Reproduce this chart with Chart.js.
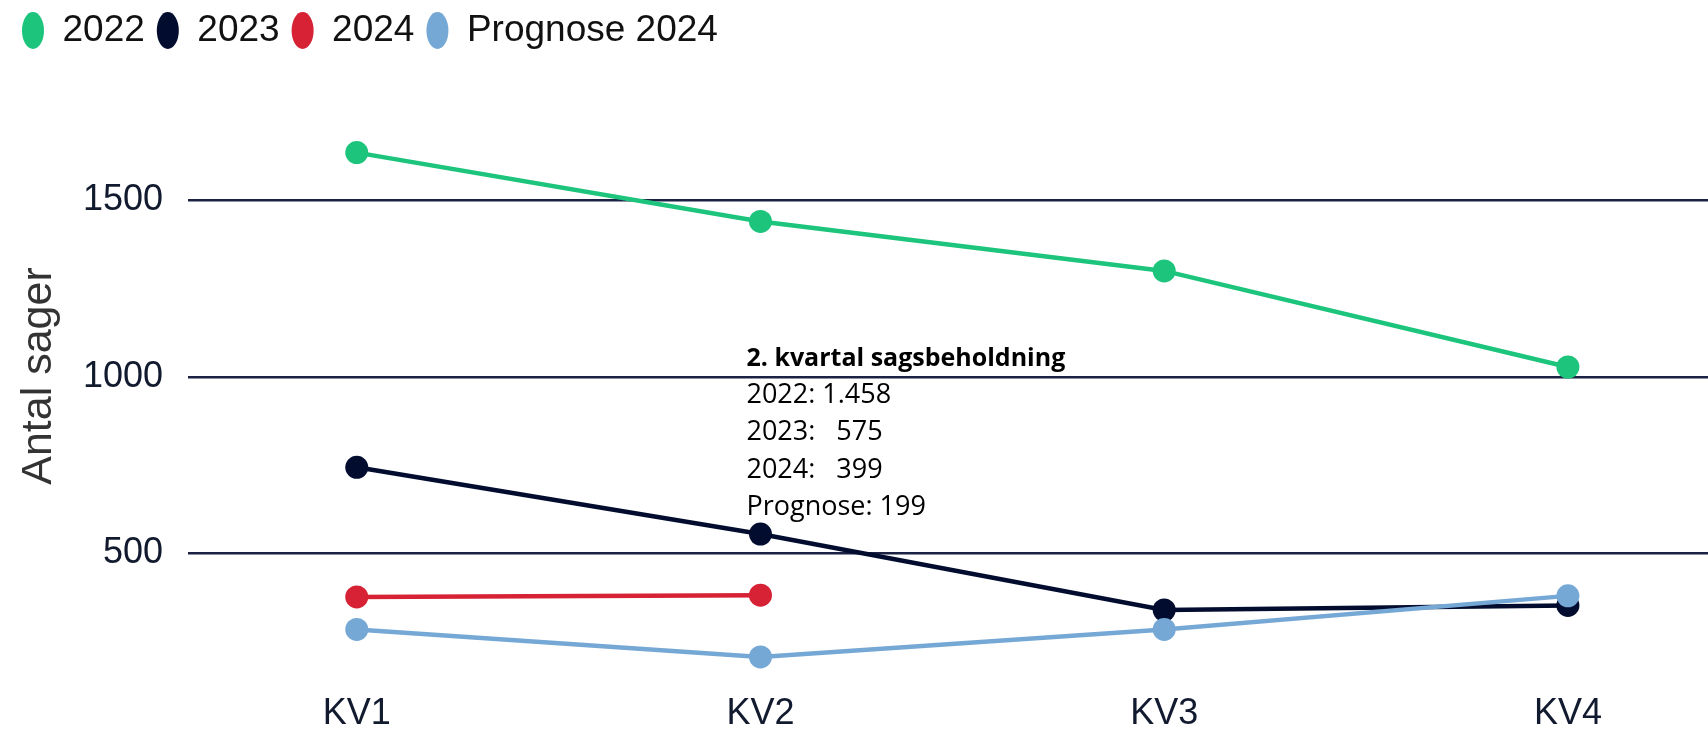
<!DOCTYPE html>
<html>
<head>
<meta charset="utf-8">
<title>Antal sager</title>
<script src="https://cdn.jsdelivr.net/npm/chart.js@4.4.1/dist/chart.umd.min.js"></script>
<style>
  html, body { margin: 0; padding: 0; background: #fff; }
  #wrap { width: 1708px; height: 729px; }
</style>
</head>
<body>
<div id="wrap"><canvas id="caseChart" width="1708" height="729"></canvas></div>
<script>
// Data
const quarters = ['KV1', 'KV2', 'KV3', 'KV4'];
const cases2022 = [1635, 1440, 1300, 1028];
const cases2023 = [744, 555, 340, 353];
const cases2024 = [377, 382];
const forecast2024 = [285, 207, 285, 380];
const yTicks = [500, 1000, 1500];

const noteTitle = '2. kvartal sagsbeholdning';
const noteLines = ['2022: 1.458', '2023:   575', '2024:   399', 'Prognose: 199'];

const toPoints = arr => arr.map((v, i) => ({ x: i, y: v }));

function series(label, values, color, order) {
  return {
    label: label,
    data: toPoints(values),
    borderColor: color,
    backgroundColor: color,
    pointBackgroundColor: color,
    pointBorderColor: color,
    borderWidth: 4.5,
    pointRadius: 11.5,
    pointHoverRadius: 11.5,
    pointBorderWidth: 0,
    tension: 0,
    order: order
  };
}

// Text box next to KV2
const notePlugin = {
  id: 'note',
  afterDraw(chart) {
    const ctx = chart.ctx;
    const x = chart.scales.x.getPixelForValue(1) - 14;
    const y0 = chart.scales.y.getPixelForValue(1000) - 11;
    ctx.save();
    ctx.fillStyle = '#000';
    ctx.textAlign = 'left';
    ctx.textBaseline = 'alphabetic';
    ctx.font = "bold 25px 'Open Sans', sans-serif";
    ctx.fillText(noteTitle, x, y0);
    ctx.font = "27px 'Open Sans', sans-serif";
    noteLines.forEach((line, i) => {
      ctx.fillText(line, x, y0 + 37 + i * 37.5);
    });
    ctx.restore();
  }
};

Chart.defaults.font.family = "'Liberation Sans', Arial, sans-serif";

new Chart(document.getElementById('caseChart'), {
  type: 'line',
  data: {
    datasets: [
      series('2022', cases2022, '#1cc47c', 3),
      series('2023', cases2023, '#020c2e', 2),
      series('2024', cases2024, '#d72235', 1),
      series('Prognose 2024', forecast2024, '#76a8d6', 0)
    ]
  },
  options: {
    responsive: false,
    devicePixelRatio: 1,
    animation: false,
    layout: { autoPadding: false, padding: { left: 10, right: 0, top: 0, bottom: 0 } },
    plugins: {
      legend: {
        position: 'top',
        align: 'start',
        labels: {
          usePointStyle: true,
          pointStyle: 'circle',
          pointStyleWidth: 22,
          boxHeight: 26,
          padding: 12,
          color: '#111',
          font: { size: 37 },
          sort: (a, b) => a.datasetIndex - b.datasetIndex
        }
      },
      tooltip: { enabled: false }
    },
    scales: {
      x: {
        type: 'linear',
        min: -0.418,
        max: 3.347,
        afterBuildTicks: s => { s.ticks = quarters.map((q, i) => ({ value: i })); },
        afterFit: s => { s.height = 36; s.paddingLeft = 0; s.paddingRight = 0; },
        ticks: {
          callback: v => quarters[v],
          color: '#111a2e',
          padding: -3,
          font: { size: 36, lineHeight: 0.9 }
        },
        grid: { display: false },
        border: { display: false }
      },
      y: {
        min: 105,
        max: 1900,
        afterBuildTicks: s => { s.ticks = yTicks.map(v => ({ value: v })); },
        afterFit: s => { s.width = 178; s.paddingTop = 0; s.paddingBottom = 0; },
        ticks: {
          callback: v => String(v),
          color: '#111a2e',
          padding: 25,
          font: { size: 36 }
        },
        grid: { color: '#1c2244', lineWidth: 2.5, drawTicks: false },
        border: { display: false },
        title: {
          display: true,
          text: 'Antal sager',
          color: '#333',
          font: { size: 43 },
          padding: 3
        }
      }
    }
  },
  plugins: [notePlugin]
});
</script>
</body>
</html>
